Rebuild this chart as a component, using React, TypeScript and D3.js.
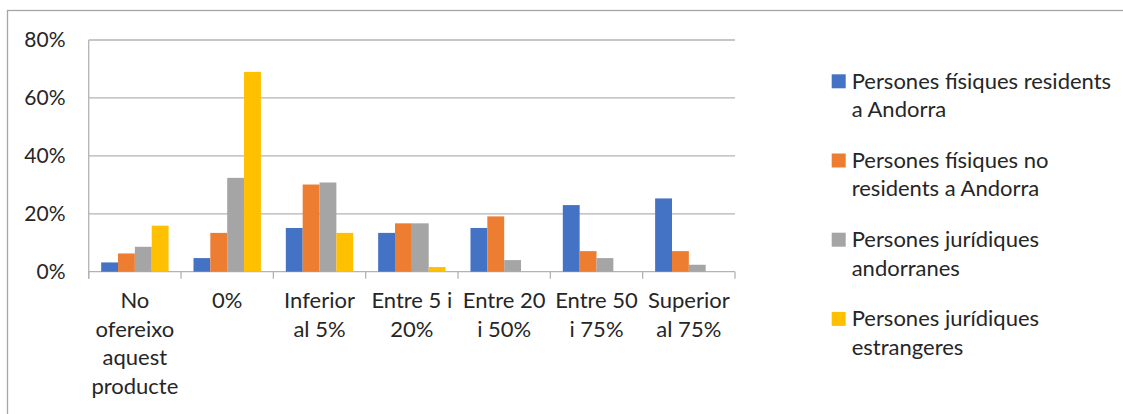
import React from "react";
import * as d3 from "d3";

// Category labels, split into the lines they wrap to under the axis
const categories: string[][] = [
  ["No", "ofereixo", "aquest", "producte"],
  ["0%"],
  ["Inferior", "al 5%"],
  ["Entre 5 i", "20%"],
  ["Entre 20", "i 50%"],
  ["Entre 50", "i 75%"],
  ["Superior", "al 75%"],
];

const seriesNames: string[][] = [
  ["Persones físiques residents", "a Andorra"],
  ["Persones físiques no", "residents a Andorra"],
  ["Persones jurídiques", "andorranes"],
  ["Persones jurídiques", "estrangeres"],
];

// Percentages per category, one array per series
const fisiquesResidents = [3.2, 4.7, 15.1, 13.4, 15.1, 23.0, 25.3];
const fisiquesNoResidents = [6.3, 13.4, 30.1, 16.7, 19.1, 7.1, 7.1];
const juridiquesAndorranes = [8.6, 32.4, 30.8, 16.7, 4.0, 4.7, 2.4];
const juridiquesEstrangeres = [15.9, 69.0, 13.4, 1.6, 0, 0, 0];

const seriesValues = [
  fisiquesResidents,
  fisiquesNoResidents,
  juridiquesAndorranes,
  juridiquesEstrangeres,
];

const yTicks = [0, 20, 40, 60, 80];
const colors = ["#4472C4", "#ED7D31", "#A5A5A5", "#FFC000"];

const W = 1123;
const H = 414;
const plot = { left: 88.7, right: 735, top: 40, bottom: 271.7 };
const font = "Lato, 'Open Sans', sans-serif";
const textColor = "#262626";
const gridColor = "#b3b3b3";

export default function App() {
  const catIdx = categories.map((_, i) => String(i));
  const x = d3
    .scaleBand<string>()
    .domain(catIdx)
    .range([plot.left, plot.right])
    .paddingInner(0.27)
    .paddingOuter(0.135);
  const step = (plot.right - plot.left) / categories.length;
  const xs = d3
    .scaleBand<string>()
    .domain(seriesValues.map((_, i) => String(i)))
    .range([0, x.bandwidth()]);
  const y = d3.scaleLinear().domain([0, 80]).range([plot.bottom, plot.top]);

  return (
    <svg
      width={W}
      height={H}
      style={{ position: "absolute", left: 0, top: 0, background: "#fff" }}
    >
      {/* chart frame */}
      <rect
        x={7.5}
        y={10.5}
        width={W + 10}
        height={H + 10}
        fill="none"
        stroke="#a6a6a6"
        strokeWidth={1.3}
      />

      {/* gridlines and y labels */}
      {yTicks.map((t) => (
        <g key={t}>
          <line
            x1={plot.left}
            x2={plot.right}
            y1={y(t)}
            y2={y(t)}
            stroke={gridColor}
            strokeWidth={1.3}
          />
          <text
            x={65.5}
            y={y(t)}
            dy="0.35em"
            textAnchor="end"
            fontFamily={font}
            fontSize={21}
            fill={textColor}
          >
            {t}%
          </text>
        </g>
      ))}

      {/* axes */}
      <line
        x1={plot.left}
        x2={plot.left}
        y1={plot.top}
        y2={plot.bottom + 7}
        stroke={gridColor}
        strokeWidth={1.3}
      />
      {d3.range(categories.length + 1).map((i) => (
        <line
          key={i}
          x1={plot.left + i * step}
          x2={plot.left + i * step}
          y1={plot.bottom}
          y2={plot.bottom + 7}
          stroke={gridColor}
          strokeWidth={1.3}
        />
      ))}

      {/* bars */}
      {seriesValues.map((vals, s) =>
        vals.map((v, c) =>
          v > 0 ? (
            <rect
              key={`${s}-${c}`}
              x={(x(String(c)) as number) + (xs(String(s)) as number)}
              y={y(v)}
              width={xs.bandwidth()}
              height={plot.bottom - y(v)}
              fill={colors[s]}
            />
          ) : null
        )
      )}

      {/* category labels */}
      {categories.map((lines, c) => (
        <text
          key={c}
          x={plot.left + (c + 0.5) * step}
          y={308}
          textAnchor="middle"
          fontFamily={font}
          fontSize={22}
          fill={textColor}
        >
          {lines.map((l, k) => (
            <tspan key={k} x={plot.left + (c + 0.5) * step} dy={k === 0 ? 0 : 28.5}>
              {l}
            </tspan>
          ))}
        </text>
      ))}

      {/* legend */}
      {seriesNames.map((lines, s) => {
        const base = 88.8 + s * 79.2;
        return (
          <g key={s}>
            <rect x={831.7} y={base - 14.5} width={14} height={14} fill={colors[s]} />
            <text x={851.7} y={base} fontFamily={font} fontSize={22} fill={textColor}>
              {lines.map((l, k) => (
                <tspan key={k} x={851.7} dy={k === 0 ? 0 : 28.4}>
                  {l}
                </tspan>
              ))}
            </text>
          </g>
        );
      })}
    </svg>
  );
}
